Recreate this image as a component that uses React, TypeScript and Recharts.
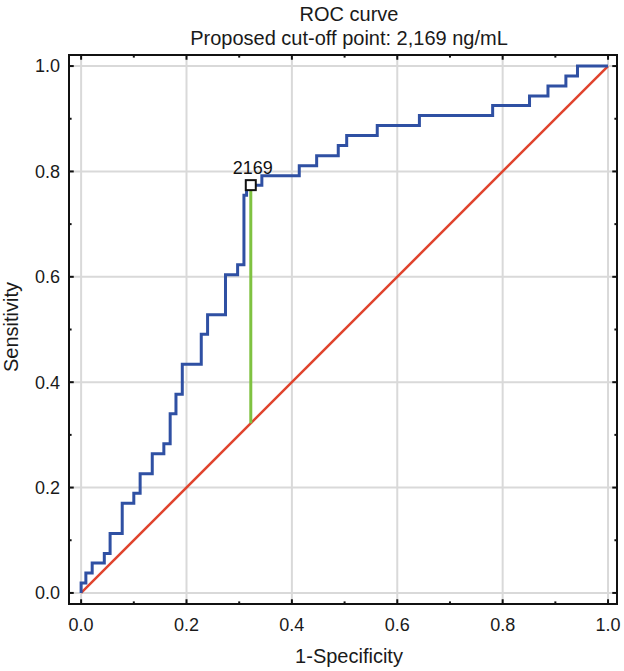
import {
  CartesianGrid,
  ComposedChart,
  Line,
  ReferenceArea,
  ReferenceDot,
  ReferenceLine,
  XAxis,
  YAxis,
} from "recharts";

// ROC vertices (1-specificity, sensitivity), drawn as a step curve
const fpr = [
  0, 0, 0.009, 0.021, 0.044, 0.055, 0.078, 0.1, 0.112, 0.135, 0.157, 0.169, 0.18, 0.192, 0.228, 0.24, 0.274,
  0.297, 0.309, 0.314, 0.343, 0.414, 0.447, 0.488, 0.504, 0.562, 0.642, 0.781, 0.851, 0.886, 0.92, 0.942, 1.0,
];
const tpr = [
  0, 0.019, 0.038, 0.057, 0.075, 0.113, 0.17, 0.189, 0.226, 0.264, 0.283, 0.34, 0.377, 0.434, 0.491, 0.528, 0.604,
  0.623, 0.755, 0.774, 0.792, 0.811, 0.83, 0.849, 0.868, 0.887, 0.906, 0.925, 0.943, 0.962, 0.981, 1.0, 1.0,
];

// chance line
const chanceX = [0, 1];
const chanceY = [0, 1];

// proposed cut-off point
const cutoffLabel = "2169";
const cutoffFpr = 0.322;
const cutoffTpr = 0.774;

const majorTicks = [0, 0.2, 0.4, 0.6, 0.8, 1.0];
const minorTicks = [0.1, 0.3, 0.5, 0.7, 0.9];

const X_DOMAIN: [number, number] = [-0.023, 1.017];
const Y_DOMAIN: [number, number] = [-0.021, 1.021];

const rocData = fpr.map((x, i) => ({ x, y: tpr[i] }));
const chanceData = chanceX.map((x, i) => ({ x, y: chanceY[i] }));

const FONT = "'Liberation Sans', Arial, Helvetica, sans-serif";
const tickStyle = { fontSize: 18, fill: "#1a1a1a", fontFamily: FONT };

function CutoffMarker(props: any) {
  const { cx, cy } = props;
  return (
    <g>
      <rect x={cx - 5} y={cy - 5} width={10} height={10} fill="#fff" stroke="#111" strokeWidth={2} />
      <text x={cx + 2} y={cy - 11} textAnchor="middle" fontSize={18} fill="#111" fontFamily={FONT}>
        {cutoffLabel}
      </text>
    </g>
  );
}

// small inward tick marks on all four sides of the frame
function frameTicks() {
  const out: any[] = [];
  const lenX = 0.009;
  const lenY = 0.009;
  const all = [...majorTicks.map((v) => [v, 1]), ...minorTicks.map((v) => [v, 0.55])];
  all.forEach(([v, k], i) => {
    const dx = lenX * k;
    const dy = lenY * k;
    out.push(
      <ReferenceLine key={`b${i}`} segment={[{ x: v, y: Y_DOMAIN[0] }, { x: v, y: Y_DOMAIN[0] + dy }]} stroke="#111" strokeWidth={2} ifOverflow="visible" />,
      <ReferenceLine key={`t${i}`} segment={[{ x: v, y: Y_DOMAIN[1] }, { x: v, y: Y_DOMAIN[1] - dy }]} stroke="#111" strokeWidth={2} ifOverflow="visible" />,
      <ReferenceLine key={`l${i}`} segment={[{ x: X_DOMAIN[0], y: v }, { x: X_DOMAIN[0] + dx, y: v }]} stroke="#111" strokeWidth={2} ifOverflow="visible" />,
      <ReferenceLine key={`r${i}`} segment={[{ x: X_DOMAIN[1], y: v }, { x: X_DOMAIN[1] - dx, y: v }]} stroke="#111" strokeWidth={2} ifOverflow="visible" />
    );
  });
  return out;
}

export default function App() {
  return (
    <div style={{ position: "absolute", left: 0, top: 0, width: 624, height: 671, background: "#fff", fontFamily: FONT, color: "#1a1a1a" }}>
      <div style={{ position: "absolute", left: 149, top: 2, width: 400, textAlign: "center", fontSize: 20, lineHeight: "24px" }}>
        <div>ROC curve</div>
        <div>Proposed cut-off point: 2,169 ng/mL</div>
      </div>
      <ComposedChart width={624} height={671} margin={{ top: 55, right: 7, bottom: 37, left: 19 }}>
        <CartesianGrid stroke="#d9d9d9" strokeWidth={2} />
        <XAxis
          type="number"
          dataKey="x"
          domain={X_DOMAIN}
          allowDataOverflow
          ticks={majorTicks}
          tickFormatter={(v) => v.toFixed(1)}
          tickLine={false}
          axisLine={false}
          tickSize={6}
          tickMargin={8}
          height={30}
          tick={tickStyle}
        />
        <YAxis
          type="number"
          dataKey="y"
          domain={Y_DOMAIN}
          allowDataOverflow
          ticks={majorTicks}
          tickFormatter={(v) => v.toFixed(1)}
          tickLine={false}
          axisLine={false}
          tickSize={6}
          tickMargin={3}
          width={50}
          tick={tickStyle}
        />
        <Line data={chanceData} dataKey="y" type="linear" stroke="#e0432d" strokeWidth={2.5} dot={false} isAnimationActive={false} />
        <Line data={rocData} dataKey="y" type="stepAfter" stroke="#2f50a3" strokeWidth={3} dot={false} isAnimationActive={false} />
        <ReferenceDot x={cutoffFpr} y={cutoffTpr} shape={CutoffMarker} ifOverflow="visible" />
        <ReferenceLine segment={[{ x: cutoffFpr, y: cutoffFpr }, { x: cutoffFpr, y: cutoffTpr }]} stroke="#7fc241" strokeWidth={3} ifOverflow="visible" />
        <ReferenceArea x1={X_DOMAIN[0]} x2={X_DOMAIN[1]} y1={Y_DOMAIN[0]} y2={Y_DOMAIN[1]} fill="none" fillOpacity={0} stroke="#111" strokeWidth={2} ifOverflow="visible" />
        {frameTicks()}
      </ComposedChart>
      <div style={{ position: "absolute", left: 149, top: 644, width: 400, textAlign: "center", fontSize: 20, lineHeight: "24px" }}>
        1-Specificity
      </div>
      <div style={{ position: "absolute", left: 11, top: 327, transform: "translate(-50%, -50%) rotate(-90deg)", fontSize: 20, lineHeight: "24px", whiteSpace: "nowrap" }}>
        Sensitivity
      </div>
    </div>
  );
}
